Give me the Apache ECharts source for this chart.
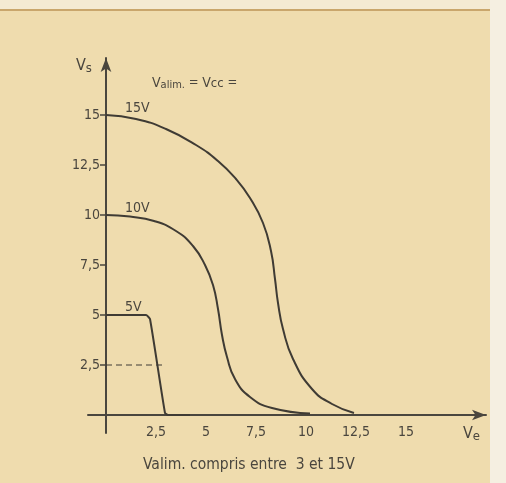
<!DOCTYPE html>
<html>
<head>
<meta charset="utf-8">
<script src="https://cdn.jsdelivr.net/npm/echarts@6/dist/echarts.min.js"></script>
<style>
  html, body { margin: 0; padding: 0; background: #efdcae; }
  #chart { width: 506px; height: 483px; }
</style>
</head>
<body>
<div id="chart"></div>
<script>
// ticks on both axes
var xTicks = [2.5, 5, 7.5, 10, 12.5, 15];
var yTicks = [2.5, 5, 7.5, 10, 12.5, 15];
var tickText = {2.5: '2,5', 5: '5', 7.5: '7,5', 10: '10', 12.5: '12,5', 15: '15'};

// Vs as a function of Ve, one curve per supply voltage
var curve15 = [[0, 15], [1.5, 14.8], [3, 14.3], [4.5, 13.5], [5.6, 12.7], [6.5, 11.8], [7.2, 10.85],
    [7.85, 9.6], [8.25, 8.2], [8.45, 6.8], [8.6, 5.6], [8.85, 4.3], [9.35, 2.8], [10.3, 1.3], [11.3, 0.55], [12.4, 0.1]];
var curve10 = [[0, 10], [1.2, 9.92], [2.4, 9.7], [3.5, 9.2], [4.35, 8.45], [4.95, 7.5], [5.35, 6.5], [5.6, 5.3],
    [5.8, 4.0], [6.05, 2.9], [6.45, 1.8], [7.2, 0.9], [8.3, 0.35], [10.2, 0.08]];
var curve5 = [[0, 5], [2, 5], [2.2, 4.8], [2.95, 0.1], [3.1, 0], [4.2, 0]];
var halfLine = [[0, 2.5], [3, 2.5]];

var ink = '#3f3b34';
var font = "'DejaVu Sans Condensed', 'Liberation Sans Narrow', sans-serif";

var chartDom = document.getElementById('chart');
var myChart = echarts.init(chartDom);

function curve(data, smooth) {
    return {
        type: 'line',
        data: data,
        smooth: smooth,
        showSymbol: false,
        lineStyle: { color: ink, width: 2 },
        silent: true
    };
}

var option = {
    backgroundColor: '#efdcae',
    animation: false,
    grid: { left: 88, right: 20, top: 58, bottom: 50 },
    xAxis: {
        type: 'value',
        min: -0.9,
        max: 19,
        axisLine: { onZero: true, lineStyle: { color: '#4a463e', width: 2 }, symbol: ['none', 'arrow'], symbolSize: [8, 14] },
        axisTick: { show: false },
        splitLine: { show: false },
        axisLabel: {
            customValues: xTicks,
            formatter: function (v) { return tickText[v]; },
            color: '#4a463e', fontFamily: font, fontSize: 14, margin: -8
        }
    },
    yAxis: {
        type: 'value',
        min: -0.9,
        max: 17.85,
        axisLine: { onZero: true, lineStyle: { color: '#4a463e', width: 2 }, symbol: ['none', 'arrow'], symbolSize: [8, 14] },
        axisTick: { show: true, customValues: yTicks, length: 6, lineStyle: { color: '#4a463e', width: 1.5 } },
        splitLine: { show: false },
        axisLabel: {
            customValues: yTicks,
            formatter: function (v) { return tickText[v]; },
            color: '#4a463e', fontFamily: font, fontSize: 14, margin: -12
        }
    },
    series: [
        curve(curve15, 0.5),
        curve(curve10, 0.5),
        curve(curve5, 0.15),
        {
            type: 'line',
            data: halfLine,
            showSymbol: false,
            lineStyle: { color: ink, width: 1, type: [6, 4] },
            silent: true
        }
    ],
    graphic: [
        { type: 'rect', shape: { x: 0, y: 0, width: 506, height: 9 }, style: { fill: '#f4ead3' }, z: -1 },
        { type: 'rect', shape: { x: 0, y: 9, width: 492, height: 2 }, style: { fill: '#c9a66c' }, z: -1 },
        { type: 'rect', shape: { x: 490, y: 0, width: 16, height: 483 }, style: { fill: '#f5efe1' }, z: -1 },
        {
            type: 'text', left: 76, top: 58,
            style: { text: '{v|V}{s|s}', fill: '#4a463e', rich: { v: { fontSize: 16, fontFamily: font, fill: '#4a463e' }, s: { fontSize: 13, fontFamily: font, fill: '#4a463e', padding: [6, 0, 0, 0] } } }
        },
        {
            type: 'text', left: 463, top: 426,
            style: { text: '{v|V}{s|e}', fill: '#4a463e', rich: { v: { fontSize: 16, fontFamily: font, fill: '#4a463e' }, s: { fontSize: 13, fontFamily: font, fill: '#4a463e', padding: [6, 0, 0, 0] } } }
        },
        {
            type: 'text', left: 152, top: 76,
            style: { text: '{v|V}{s|alim.} = {v|V}{c|cc} =', fill: '#4a463e', fontFamily: font, fontSize: 13,
                rich: { v: { fontSize: 14, fontFamily: font, fill: '#4a463e' }, s: { fontSize: 11, fontFamily: font, fill: '#4a463e', padding: [5, 0, 0, 0] }, c: { fontSize: 13, fontFamily: font, fill: '#4a463e', padding: [2, 0, 0, 0] } } }
        },
        { type: 'text', left: 125, top: 101, style: { text: '15V', fill: '#4a463e', fontFamily: font, fontSize: 14 } },
        { type: 'text', left: 125, top: 201, style: { text: '10V', fill: '#4a463e', fontFamily: font, fontSize: 14 } },
        { type: 'text', left: 125, top: 300, style: { text: '5V', fill: '#4a463e', fontFamily: font, fontSize: 14 } },
        { type: 'text', left: 143, top: 457, style: { text: 'Valim. compris entre  3 et 15V', fill: '#4a463e', fontFamily: font, fontSize: 15.5 } }
    ]
};

option && myChart.setOption(option);
</script>
</body>
</html>
